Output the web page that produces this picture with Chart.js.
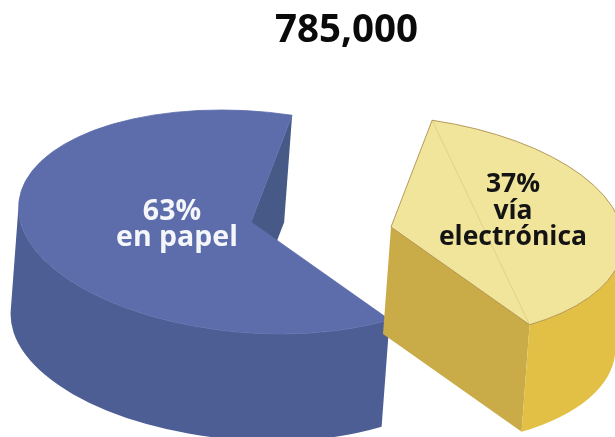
<!DOCTYPE html>
<html>
<head>
<meta charset="utf-8">
<style>
    html, body { margin: 0; padding: 0; background: #fff; overflow: hidden; }
    canvas { display: block; }
</style>
<script src="https://cdn.jsdelivr.net/npm/chart.js@4"></script>
</head>
<body>
<canvas id="grafico" width="615" height="437"></canvas>
<script>
// Datos
const titulo = '785,000';
const categorias = ['en papel', 'vía electrónica'];
const valores = [63, 37];
const etiquetas = [['63%', 'en papel'], ['37%', 'vía', 'electrónica']];

const coloresCara = ['#5d6dab', '#f1e59b'];
const coloresPared = ['#4c5e93', '#e2bf45'];
const coloresCorte = ['#475a87', '#c9ac48'];
const coloresBorde = ['#5d6dab', '#a5843f'];
const coloresTexto = ['#f5f6fa', '#141414'];

// Geometría de la elipse en pantalla (pastel en perspectiva)
const RADIO_X = 233;
const RADIO_Y = 110.8;
const GIRO = 4.6 * Math.PI / 180;
const ALTO = { x: -8, y: 107 };
const VERTICES = [{ x: 251, y: 222 }, { x: 391, y: 227 }];

// Posición de cada línea de texto
const POS_TEXTO = [
    [{ x: 172, y: 220 }, { x: 177, y: 246 }],
    [{ x: 513, y: 192 }, { x: 513, y: 219 }, { x: 513, y: 245 }],
];
const FUENTE_TEXTO = ['bold 28.5px "Open Sans"', 'bold 26.5px "Open Sans"'];

function puntoElipse(v, t) {
    const px = RADIO_X * Math.cos(t);
    const py = RADIO_Y * Math.sin(t);
    return {
        x: v.x + px * Math.cos(GIRO) - py * Math.sin(GIRO),
        y: v.y + px * Math.sin(GIRO) + py * Math.cos(GIRO),
    };
}

// Ángulo del lado de la elipse que mira hacia el espectador
function anguloFrente() {
    const ex = ALTO.x * Math.cos(GIRO) + ALTO.y * Math.sin(GIRO);
    const ey = -ALTO.x * Math.sin(GIRO) + ALTO.y * Math.cos(GIRO);
    return Math.atan2(ey / RADIO_Y, ex / RADIO_X);
}

// Pared exterior: solo la parte visible del arco
function dibujarPared(ctx, v, inicio, final, color) {
    const frente = anguloFrente();
    let ini = inicio;
    let fin = final;
    // normalizo para comparar con el frente
    while (ini > frente) { ini -= 2 * Math.PI; fin -= 2 * Math.PI; }
    while (fin < frente - Math.PI / 2) { ini += 2 * Math.PI; fin += 2 * Math.PI; }
    ini = Math.max(ini, frente - Math.PI / 2);
    fin = Math.min(fin, frente + Math.PI / 2);
    if (fin <= ini) return;

    const abajo = { x: v.x + ALTO.x, y: v.y + ALTO.y };
    ctx.beginPath();
    ctx.ellipse(v.x, v.y, RADIO_X, RADIO_Y, GIRO, ini, fin);
    ctx.ellipse(abajo.x, abajo.y, RADIO_X, RADIO_Y, GIRO, fin, ini, true);
    ctx.closePath();
    ctx.fillStyle = color;
    ctx.fill();
}

// Cara de corte entre el vértice y un extremo del arco
function dibujarCorte(ctx, v, t, color) {
    const p = puntoElipse(v, t);
    ctx.beginPath();
    ctx.moveTo(v.x, v.y);
    ctx.lineTo(p.x, p.y);
    ctx.lineTo(p.x + ALTO.x, p.y + ALTO.y);
    ctx.lineTo(v.x + ALTO.x, v.y + ALTO.y);
    ctx.closePath();
    ctx.fillStyle = color;
    ctx.fill();
}

// El arco de Chart.js se dibuja dentro de la elipse con una transformación
function dibujarCara(ctx, arco, v) {
    const sx = 1 / arco.outerRadius;
    ctx.save();
    ctx.translate(v.x, v.y);
    ctx.rotate(GIRO);
    ctx.scale(RADIO_X * sx, RADIO_Y * sx);
    ctx.translate(-arco.x, -arco.y);
    arco.draw(ctx);
    ctx.restore();
}

const pastel3d = {
    id: 'pastel3d',
    beforeDatasetsDraw(chart) {
        const ctx = chart.ctx;
        const arcos = chart.getDatasetMeta(0).data;

        arcos.forEach((arco, i) => {
            const v = VERTICES[i];
            const ini = arco.startAngle;
            const fin = arco.endAngle;

            dibujarCorte(ctx, v, fin, coloresCorte[i]);
            dibujarPared(ctx, v, ini, fin, coloresPared[i]);
            dibujarCara(ctx, arco, v);

            // Contorno fino de la cara
            ctx.beginPath();
            ctx.moveTo(v.x, v.y);
            ctx.ellipse(v.x, v.y, RADIO_X, RADIO_Y, GIRO, ini, fin);
            ctx.closePath();
            ctx.strokeStyle = coloresBorde[i];
            ctx.lineWidth = 0.8;
            ctx.stroke();

            if (i === 1) {
                // Línea tenue que cruza la cara amarilla
                const a = puntoElipse(v, ini);
                const b = puntoElipse(v, fin);
                ctx.beginPath();
                ctx.moveTo(b.x, b.y);
                ctx.lineTo(a.x, a.y);
                ctx.strokeStyle = 'rgba(165,132,63,0.35)';
                ctx.lineWidth = 0.6;
                ctx.stroke();
            }
        });

        return false;
    },
    afterDraw(chart) {
        const ctx = chart.ctx;
        ctx.save();
        ctx.textAlign = 'center';
        ctx.textBaseline = 'alphabetic';
        etiquetas.forEach((lineas, i) => {
            ctx.font = FUENTE_TEXTO[i];
            ctx.fillStyle = coloresTexto[i];
            lineas.forEach((linea, j) => {
                ctx.fillText(linea, POS_TEXTO[i][j].x, POS_TEXTO[i][j].y);
            });
        });
        ctx.restore();
    },
};

new Chart(document.getElementById('grafico'), {
    type: 'pie',
    data: {
        labels: categorias,
        datasets: [{
            data: valores,
            backgroundColor: coloresCara,
            borderWidth: 0,
        }],
    },
    options: {
        responsive: false,
        animation: false,
        rotation: 141.2,
        layout: { padding: { left: 78 } },
        events: [],
        plugins: {
            legend: { display: false },
            tooltip: { enabled: false },
            title: {
                display: true,
                text: titulo,
                color: '#0a0a0a',
                font: { family: '"Open Sans"', size: 38.5, weight: 'bold' },
                padding: { top: 8, bottom: 6 },
            },
        },
    },
    plugins: [pastel3d],
});
</script>
</body>
</html>
